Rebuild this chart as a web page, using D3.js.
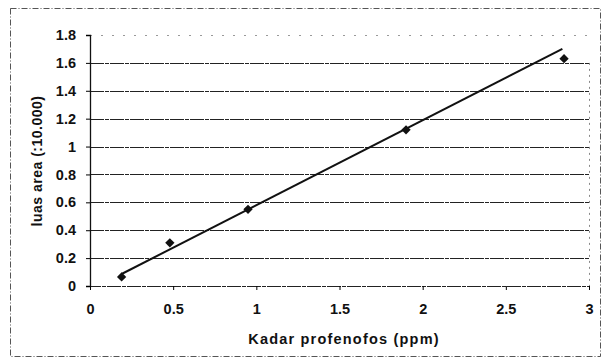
<!DOCTYPE html>
<html>
<head>
<meta charset="utf-8">
<script src="https://cdn.jsdelivr.net/npm/d3@7/dist/d3.min.js"></script>
<style>
  body { margin: 0; background: #fff; }
  text { font-family: "Liberation Sans", Arial, sans-serif; font-weight: bold; fill: #111; }
</style>
</head>
<body>
<figure id="scatter" style="margin:0"></figure>
<script>
// measured points
const kadar = [0.19, 0.48, 0.95, 1.9, 2.85];
const luas = [0.065, 0.31, 0.55, 1.12, 1.63];
// linear trendline ends
const trendX = [0.19, 2.84];
const trendY = [0.086, 1.70];
const xTicks = [0, 0.5, 1, 1.5, 2, 2.5, 3];
const yTicks = [0, 0.2, 0.4, 0.6, 0.8, 1, 1.2, 1.4, 1.6, 1.8];

const W = 603, H = 363;
const plotLeft = 90, plotRight = 589, plotTop = 35, plotBottom = 286;

const svg = d3.select("figure#scatter")
  .append("svg")
  .attr("width", W)
  .attr("height", H);

// outer chart border
svg.append("rect")
  .attr("x", 10.5).attr("y", 8.5)
  .attr("width", 590).attr("height", 348)
  .attr("fill", "none")
  .attr("stroke", "#555")
  .attr("stroke-dasharray", "6,2,1,2");

const x = d3.scaleLinear().domain([0, 3]).range([plotLeft, plotRight]);
const y = d3.scaleLinear().domain([0, 1.8]).range([plotBottom, plotTop]);

// horizontal gridlines
svg.append("g")
  .selectAll("line")
  .data(yTicks.filter(d => d > 0))
  .enter()
  .append("line")
  .attr("x1", plotLeft).attr("x2", plotRight)
  .attr("y1", d => Math.round(y(d)) + 0.5)
  .attr("y2", d => Math.round(y(d)) + 0.5)
  .attr("stroke", d => d === 1.8 ? "#999" : "#222")
  .attr("stroke-dasharray", d => d === 1.8 ? "2,9" : "14,1,4,1");

// right plot edge
svg.append("line")
  .attr("x1", plotRight + 0.5).attr("x2", plotRight + 0.5)
  .attr("y1", y(1.6)).attr("y2", plotBottom)
  .attr("stroke", "#888")
  .attr("stroke-dasharray", "2,4");

// Y axis
svg.append("g")
  .attr("transform", "translate(" + plotLeft + ",0)")
  .call(d3.axisLeft(y).tickValues(yTicks).tickSize(4).tickPadding(10)
    .tickFormat(d => d3.format("~g")(d)))
  .call(g => g.select(".domain").attr("stroke", "#111").attr("stroke-width", 1.3))
  .call(g => g.selectAll("text").attr("font-size", 14.5).style("font-weight", "bold"));

// X axis
svg.append("g")
  .attr("transform", "translate(0," + plotBottom + ")")
  .call(d3.axisBottom(x).tickValues(xTicks).tickSize(4).tickPadding(14)
    .tickFormat(d => d3.format("~g")(d)))
  .call(g => g.select(".domain").attr("stroke", "#222").attr("stroke-dasharray", "14,1,4,1"))
  .call(g => g.selectAll("text").attr("font-size", 14.5).style("font-weight", "bold"));

// trendline
svg.append("line")
  .attr("x1", x(trendX[0])).attr("y1", y(trendY[0]))
  .attr("x2", x(trendX[1])).attr("y2", y(trendY[1]))
  .attr("stroke", "#111")
  .attr("stroke-width", 2);

// points
svg.selectAll("points")
  .data(kadar)
  .enter()
  .append("path")
  .attr("d", d3.symbol(d3.symbolDiamond2, 55))
  .attr("transform", (d, i) => "translate(" + x(d) + "," + y(luas[i]) + ")")
  .attr("fill", "#111");

// axis titles
svg.append("text")
  .attr("x", 344)
  .attr("y", 344)
  .attr("text-anchor", "middle")
  .attr("font-size", 14.5)
  .attr("letter-spacing", 1.2)
  .text("Kadar profenofos (ppm)");

svg.append("text")
  .attr("transform", "translate(42,161) rotate(-90)")
  .attr("text-anchor", "middle")
  .attr("font-size", 14)
  .attr("letter-spacing", 0.5)
  .text("luas area (:10.000)");
</script>
</body>
</html>
